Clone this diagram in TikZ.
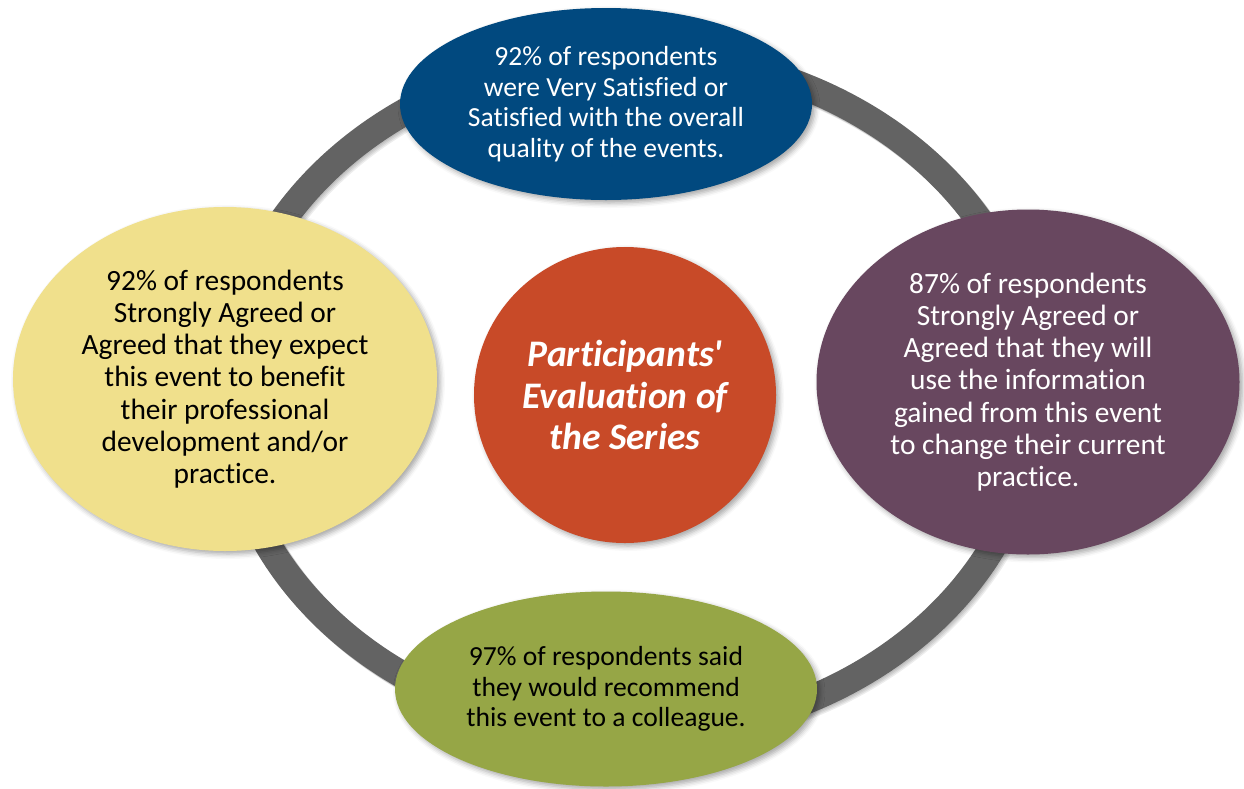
\documentclass[tikz,border=0pt]{standalone}
\usepackage{fontspec}
\setmainfont{Carlito}[RawFeature={-liga;-clig;-calt;-rlig;-dlig}]
\usetikzlibrary{shapes.geometric,shadows.blur}
\newcommand\tinolig{t\kern0pt i}
\definecolor{cblue}{RGB}{1,73,127}
\definecolor{cyellow}{RGB}{240,224,140}
\definecolor{cpurple}{RGB}{104,71,95}
\definecolor{cgreen}{RGB}{150,166,70}
\definecolor{cred}{RGB}{200,74,40}
\definecolor{cring}{RGB}{99,99,99}
\tikzset{
  blob/.style={ellipse, inner sep=0pt, align=center,
    blur shadow={shadow xshift=3pt, shadow yshift=-3pt, shadow blur radius=5pt, shadow opacity=35}},
  small/.style={font=\fontsize{27.6}{30.5}\selectfont},
  large/.style={font=\fontsize{29.4}{32.2}\selectfont},
  ringline/.style={line width=27pt, draw=cring},
  ringshade/.style={line width=27pt, draw=black, opacity=0.07}
}
\begin{document}
\begin{tikzpicture}[x=1pt,y=-1pt]
\useasboundingbox (0,0) rectangle (1244,788);
\coordinate (rc) at (631,394);
\foreach \i in {1,2,3,4}
  \draw[ringshade] ([shift={(\i,\i)}]rc) ellipse [x radius=405pt, y radius=340pt];
\draw[ringline] (rc) ellipse [x radius=405pt, y radius=340pt];

\node[blob, small, fill=cblue, text=white, minimum width=412pt, minimum height=192pt] (top) at (606,104)
  {92\% of respondents\\were Very Satisfied or\\Satisfied with the overall\\quality of the events.};
\node[blob, large, fill=cyellow, text=black, minimum width=424pt, minimum height=344pt] (left) at (225,379)
  {92\% of respondents\\Strongly Agreed or\\Agreed that they expect\\this event to benefit\\their professional\\development and/or\\prac\tinolig ce.};
\node[blob, large, fill=cpurple, text=white, minimum width=423pt, minimum height=345pt] (right) at (1028,382)
  {87\% of respondents\\Strongly Agreed or\\Agreed that they will\\use the informa\tinolig on\\gained from this event\\to change their current\\prac\tinolig ce.};
\node[blob, small, fill=cgreen, text=black, minimum width=422pt, minimum height=195pt] (bottom) at (606,689)
  {97\% of respondents said\\they would recommend\\this event to a colleague.};
\node[blob, fill=cred, text=white, minimum width=302pt, minimum height=296pt,
      font=\fontsize{37.5}{41.7}\selectfont\bfseries\itshape] (center) at (625,395)
  {Par\tinolig cipants\textquotesingle\\Evalua\tinolig on of\\the Series};
\end{tikzpicture}
\end{document}
